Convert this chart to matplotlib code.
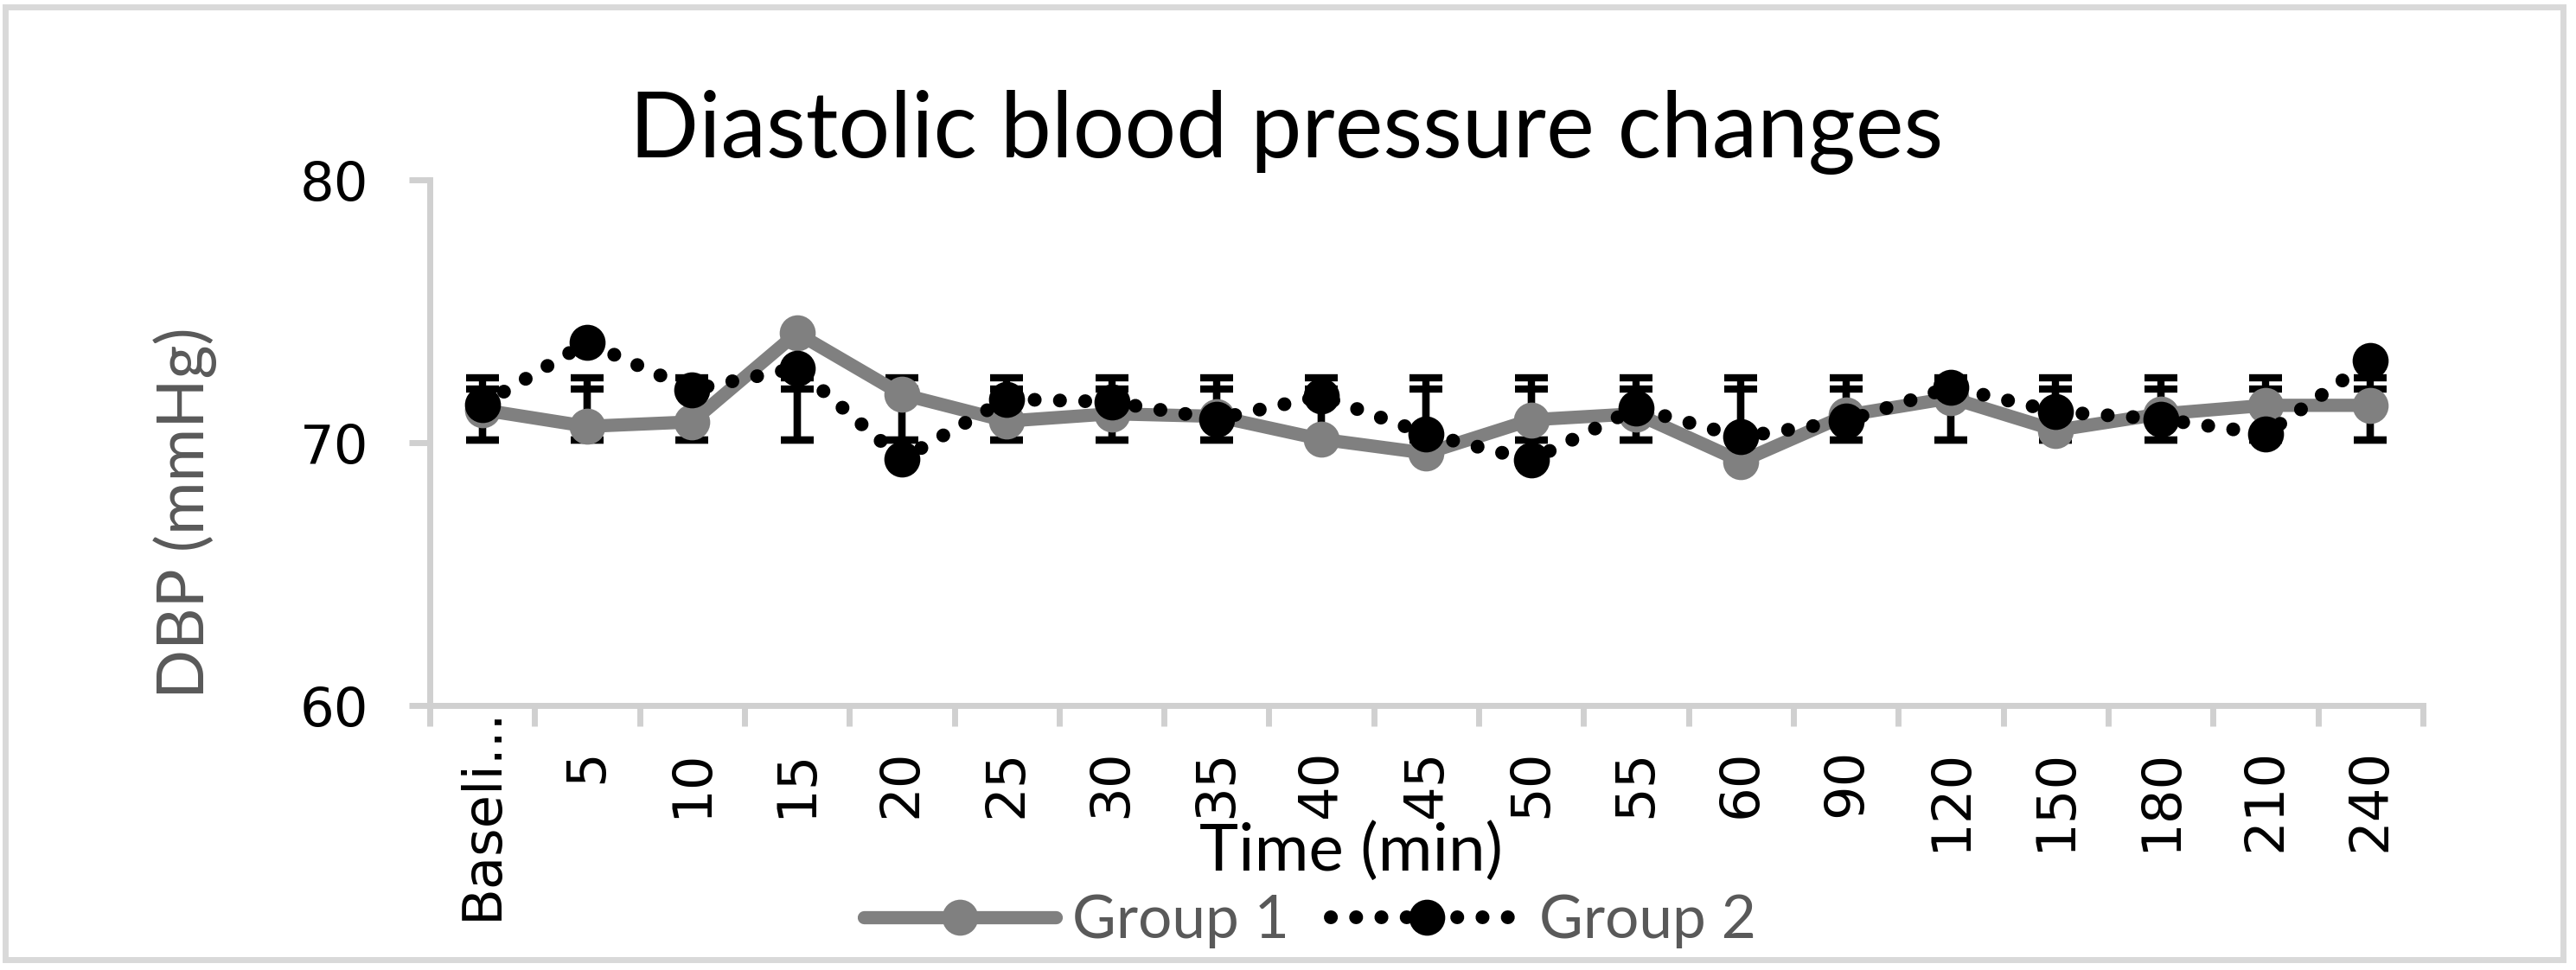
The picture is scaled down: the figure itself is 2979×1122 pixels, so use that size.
#!/usr/bin/env python3

# Diastolic blood pressure over time, two groups, with error bars.

import numpy as np
import matplotlib as mpl
mpl.use("Agg")
import matplotlib.pyplot as plt
import matplotlib.transforms as mtransforms
from matplotlib.patches import Rectangle

# Data
times = ["Baseli...", "5", "10", "15", "20", "25", "30", "35", "40", "45",
         "50", "55", "60", "90", "120", "150", "180", "210", "240"]
group1 = [71.25, 70.62, 70.79, 74.17, 71.84, 70.82, 71.10, 71.00, 70.13, 69.60,
          70.87, 71.10, 69.29, 71.04, 71.70, 70.47, 71.09, 71.42, 71.42]
group2 = [71.45, 73.81, 72.02, 72.84, 69.37, 71.66, 71.55, 70.90, 71.77, 70.33,
          69.34, 71.31, 70.22, 70.82, 72.11, 71.18, 70.90, 70.33, 73.11]
#    error bar ends as drawn in the chart
g1_err_low  = [70.1, 70.1, 70.1, 70.1, 70.1, 70.1, 70.1, 70.1, 70.1, 70.1,
               70.1, 70.1, 70.1, 70.1, 70.1, 70.1, 70.1, 70.1, 70.1]
g1_err_high = [72.46, 72.46, 72.46, 72.46, 72.46, 72.46, 72.46, 72.46, 72.46, 72.46,
               72.46, 72.46, 72.46, 72.46, 72.46, 72.46, 72.46, 72.46, 72.46]
g2_err_low  = [70.1, 70.1, 70.1, 70.1, 70.1, 70.1, 70.1, 70.1, 70.1, 70.1,
               70.1, 70.1, 70.1, 70.1, 70.1, 70.1, 70.1, 70.1, 70.1]
g2_err_high = [72.04, 72.04, 72.04, 72.04, 72.04, 72.04, 72.04, 72.04, 72.04, 72.04,
               72.04, 72.04, 72.04, 72.04, 72.04, 72.04, 72.04, 72.04, 72.04]
yticks = [60, 70, 80]

axis_grey = "#d0d0d0"
text_grey = "#595959"
title_font = "Lato"
tick_font = "DejaVu Sans"

fig = plt.figure(figsize=(29.79, 11.22), dpi=100)
ax = fig.add_axes([0.1668, 0.2727, 0.9406 - 0.1668, 0.8146 - 0.2727])

x = np.arange(len(times))

# error bars (drawn from low/high ends)
for lo, hi in [(g1_err_low, g1_err_high), (g2_err_low, g2_err_high)]:
    lo = np.array(lo)
    hi = np.array(hi)
    ax.errorbar(x, (lo + hi) / 2, yerr=(hi - lo) / 2, fmt="none",
                ecolor="black", elinewidth=6, capsize=14, capthick=6, zorder=1)

ax.plot(x, group1, color="#808080", lw=11, marker="o", ms=30, mew=0,
        solid_joinstyle="round", solid_capstyle="round", label="Group 1", zorder=2)
ax.plot(x, group2, color="black", lw=11.5, linestyle=(0, (0.01, 1.82)),
        dash_capstyle="round", marker="o", ms=30, mew=0, label="Group 2", zorder=3)

ax.set_xlim(-0.5, len(times) - 0.5)
ax.set_ylim(60, 80)

# category boundaries get tick marks, centres get labels
ax.set_xticks(np.arange(len(times) + 1) - 0.5)
ax.set_xticklabels([])
ax.set_xticks(x, minor=True)
ax.set_xticklabels(times, minor=True, rotation=90, fontsize=45,
                   family=tick_font, va="top", ha="center")
ax.tick_params(axis="x", which="major", direction="out", length=17, width=5,
               color=axis_grey)
ax.tick_params(axis="x", which="minor", length=0, pad=36)

ax.set_yticks(yticks)
ax.set_yticklabels([str(v) for v in yticks], fontsize=45, family=tick_font)
ax.tick_params(axis="y", direction="out", length=17, width=5, color=axis_grey,
               pad=34)

for s in ["top", "right"]:
    ax.spines[s].set_visible(False)
for s in ["left", "bottom"]:
    ax.spines[s].set_color(axis_grey)
    ax.spines[s].set_linewidth(5)

# long first label sits closer to the axis
lbl = ax.xaxis.get_minor_ticks()[0].label1
lbl.set_transform(lbl.get_transform() +
                  mtransforms.ScaledTranslation(0, 0.49, fig.dpi_scale_trans))

fig.text(0.4995, 0.8378, "Diastolic blood pressure changes", ha="center",
         va="baseline", fontsize=76, family=title_font, color="black")
fig.text(0.0718, 0.4715, "DBP (mmHg)", rotation=90, ha="center", va="center",
         fontsize=54, family=title_font, color=text_grey)
fig.text(0.5245, 0.1025, "Time (min)", ha="center", va="baseline",
         fontsize=55, family=title_font, color="black")

leg = fig.legend(loc="center", bbox_to_anchor=(0.5086, 0.05), ncol=2,
                 frameon=False, prop={"family": title_font, "size": 50},
                 handlelength=3.2, handletextpad=0.27, columnspacing=0.7)
for t in leg.get_texts():
    t.set_color(text_grey)

# chart border
fig.patches.append(Rectangle((6 / 2979, 1 - 1110 / 1122), (2964 - 6) / 2979,
                             (1110 - 8) / 1122, transform=fig.transFigure,
                             fill=False, edgecolor="#d9d9d9", lw=5))

fig.savefig("out.png", dpi=100)
